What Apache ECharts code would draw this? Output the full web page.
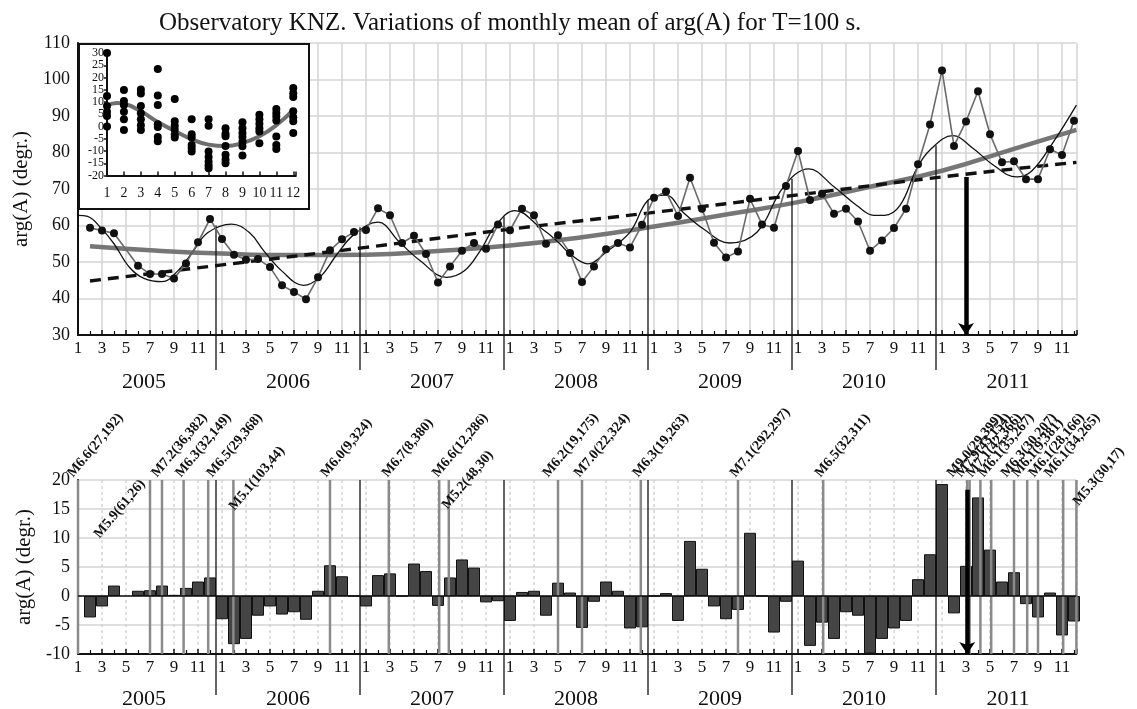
<!DOCTYPE html>
<html>
<head>
<meta charset="utf-8">
<script src="https://cdn.jsdelivr.net/npm/echarts@6/dist/echarts.min.js"></script>
<style>
  html, body { margin: 0; padding: 0; background: #fff; }
  #main { width: 1137px; height: 709px; }
</style>
</head>
<body>
<div id="main"></div>
<script>
// month index: 0 = Jan 2005 ... 83 = Dec 2011
const X_MAX = 83.2;
const SERIF = '"Liberation Serif", "Times New Roman", serif';

// monthly mean of arg(A), degrees (null = no data)
const argMean = [
  null, 59.4, 58.6, 57.9, null, 49.0, 46.7, 46.7, 45.5, 49.6, 55.4, 61.8,
  56.3, 52.0, 50.6, 50.8, 48.6, 43.6, 41.8, 39.8, 45.8, 53.2, 56.2, 58.2,
  58.8, 64.7, 62.8, 55.2, 57.2, 52.2, 44.4, 48.8, 53.1, 55.2, 53.6, 60.3,
  58.7, 64.6, 62.8, 55.0, 57.3, 52.5, 44.5, 48.8, 53.5, 55.2, 54.0, 60.2,
  67.6, 69.3, 62.6, 73.1, 64.6, 55.3, 51.2, 52.9, 67.3, 60.3, 59.4, 70.8,
  80.4, 67.0, 68.7, 63.2, 64.6, 61.1, 53.1, 55.9, 59.3, 64.6, 76.8, 87.7,
  102.5, 81.8, 88.5, 96.8, 85.0, 77.3, 77.6, 72.7, 72.7, 80.9, 79.3, 88.7
];

// fitted seasonal (thin) curve
const sineX = [0, 0.8, 2, 3, 4.3, 5.5, 7, 8.3, 9.5, 10.8, 12.8, 14.3, 15.5, 17, 18.8, 20.2, 21.6, 23,
  25, 26.8, 28.5, 30.7, 32.2, 33.5, 34.8, 36.4, 38.5, 40, 41, 42.5, 44, 46, 47.5, 49, 50.4, 52.1, 54.3,
  56.6, 58.8, 60.9, 63, 64.9, 66.3, 67.2, 68.5, 69.9, 71, 72.9, 74.6, 76.3, 78.2, 79.5, 81.3, 83.2];
const sineV = [62.8, 62.5, 59, 55, 48.5, 45.5, 44.6, 47.5, 52.5, 58, 60.4, 58, 53, 47.5, 43.6, 46, 52.2, 57.5,
  60.9, 55.4, 50.4, 45.8, 47.6, 53, 60, 64.1, 59.5, 55.5, 52.2, 49.5, 52.7, 58.2, 66.9, 68.3, 63.7, 59.1, 55.2,
  58.2, 70.6, 75.5, 70.6, 65.5, 62.8, 62.8, 65.5, 75.6, 80.7, 84.6, 81.1, 76.5, 73.3, 75, 83, 93];

// polynomial trend (thick grey)
const trendX = [1, 6, 12, 18, 24, 30, 36, 42, 48, 54, 60, 66, 72, 78, 83.2];
const trendV = [54.3, 53.2, 52.3, 51.9, 52.0, 53.0, 54.5, 56.8, 59.7, 63.0, 66.4, 70.6, 75.0, 81.0, 86.2];

// linear trend (dashed)
const linX = [1, 12, 24, 36, 48, 60, 72, 83.2];
const linV = [44.8, 49.2, 54.0, 59.0, 63.6, 68.4, 73.3, 77.3];

// residual anomaly (bars), degrees
const anomaly = [
  null, -3.7, -1.8, 1.8, null, 0.9, 1.0, 1.8, 0.2, 1.4, 2.5, 3.2,
  -4.0, -8.3, -7.4, -3.4, -1.8, -3.2, -2.8, -4.1, 0.9, 5.3, 3.4, 0,
  -1.8, 3.6, 3.9, 0, 5.6, 4.3, -1.7, 3.2, 6.3, 4.9, -1.1, -0.9,
  -4.3, 0.7, 0.9, -3.4, 2.3, 0.6, -5.5, -1.0, 2.5, 0.9, -5.6, -5.4,
  0, 0.5, -4.3, 9.5, 4.7, -1.8, -4.0, -2.4, 10.9, 0, -6.3, -1.0,
  6.1, -8.6, -4.6, -7.4, -2.8, -3.4, -9.9, -7.4, -5.6, -4.3, 2.9, 7.2,
  19.3, -3.0, 5.2, 17.0, 8.0, 2.5, 4.1, -1.4, -3.7, 0.6, -6.8, -4.4
];

// earthquakes: month of event, label, label start [month, value]
const quakeMonth = [0, 6.0, 7.0, 8.8, 10.85, 12.95, 21.0, 25.9, 30.1, 30.9, 40.0, 42.0, 46.9, 55.0, 62.1,
  74.1, 74.3, 75.2, 76.1, 78.0, 79.1, 80.0, 82.1, 83.2];
const quakeLabel = ['M6.6(27,192)', 'M5.9(61,26)', 'M7.2(36,382)', 'M6.3(32,149)', 'M6.5(29,368)',
  'M5.1(103,44)', 'M6.0(9,324)', 'M6.7(8,380)', 'M6.6(12,286)', 'M5.2(48,30)', 'M6.2(19,175)',
  'M7.0(22,324)', 'M6.3(19,263)', 'M7.1(292,297)', 'M6.5(32,311)', 'M9.0(29,399)', 'M7.9(43,154)',
  'M7.1(42,366)', 'M6.1(35,267)', 'M6.3(30,207)', 'M6.1(9,381)', 'M6.1(28,166)', 'M6.1(34,265)',
  'M5.3(30,17)'];
const quakeLabelAt = [[-0.2, 20], [2.0, 9.5], [6.8, 20], [8.8, 20], [11.4, 20], [13.25, 14.3], [20.9, 20],
  [26.0, 20], [30.2, 20], [31.0, 14.5], [39.4, 20], [42.0, 20], [46.9, 20], [55.0, 20], [62.1, 20],
  [73.1, 20], [73.8, 20], [74.7, 20], [75.7, 20], [77.6, 20], [78.5, 20], [79.9, 20], [81.2, 20], [83.6, 15.1]];

// M9.0 arrows
const arrowMonth = 74.0;
const arrowTopUpper = 73.3;
const arrowTopLower = 18.3;

// years and separators
const yearNames = ['2005', '2006', '2007', '2008', '2009', '2010', '2011'];
const yearBreaks = [11.5, 23.5, 35.5, 47.5, 59.5, 71.5];
const yearBreakTop = [60, 59.5, 62.5, 67, 72.8, 82];

// inset: seasonal scatter by calendar month
const insetValues = [
  [30, 12.4, 8.4, 6.0, 4.3, 0.0],
  [14.9, 10.4, 8.8, 6.0, 3.0, -1.4],
  [15.1, 13.5, 8.4, 5.4, 3.0, 0.5, -1.4],
  [23.5, 12.7, 8.8, 0.9, -0.2, -4.3, -6.0],
  [11.2, 2.1, 0.3, -1.3, -3.4, -4.5],
  [3.0, -3.2, -4.5, -7.5, -8.8, -10.2],
  [3.0, 0.3, -10.2, -12.4, -14.3, -15.8, -17.0],
  [-0.7, -3.0, -4.0, -8.0, -11.5, -13.5, -15.0],
  [1.7, -0.7, -2.7, -4.3, -6.1, -8.1, -11.8],
  [4.8, 3.0, 1.1, -0.7, -2.0, -6.8],
  [7.1, 5.5, 4.1, 2.5, -4.1, -7.5, -9.2],
  [15.7, 13.6, 12.0, 6.2, 3.8, 2.1, -2.7]
];
const insetCurveX = [1, 1.6, 2, 3, 4, 5, 6, 7, 8, 9, 10, 11, 12];
const insetCurveV = [8.5, 9.6, 9.3, 6.2, 1.8, -1.8, -5.2, -7.4, -8.0, -6.8, -4.0, 0.5, 6.8];

// ---- build
const pairs = (xs, vs) => xs.map((x, i) => [x, vs[i]]);
const monthPts = argMean.map((v, i) => [i, v]).filter(p => p[1] !== null);
const barPts = anomaly.map((v, i) => [i, v]).filter(p => p[1] !== null);
const insetPts = [];
insetValues.forEach((arr, k) => arr.forEach(v => insetPts.push([k + 1, v])));

const isWhole = v => Math.abs(v - Math.round(v)) < 1e-6;
const monthLabel = v => (isWhole(v) ? String(Math.round(v) % 12 + 1) : '');

function monthAxis(gridIndex, dashed) {
  return {
    type: 'value', gridIndex: gridIndex, min: 0, max: X_MAX, interval: 2,
    axisLine: { onZero: false, lineStyle: { color: '#111', width: 2 } },
    axisTick: { show: true, inside: true, length: 5, lineStyle: { color: '#111', width: 1.5 } },
    minorTick: { show: true, splitNumber: 2, length: 4, lineStyle: { color: '#111', width: 1.2 } },
    axisLabel: { formatter: monthLabel, color: '#111', fontFamily: SERIF, fontSize: 17, margin: 5 },
    splitLine: { show: true, lineStyle: { color: '#d4d4d4', width: 1.5, type: dashed ? [3, 3] : 'solid' } }
  };
}

function valueAxis(gridIndex, min, max, interval) {
  return {
    type: 'value', gridIndex: gridIndex, min: min, max: max, interval: interval,
    name: 'arg(A) (degr.)', nameLocation: 'middle', nameGap: 42,
    nameTextStyle: { fontFamily: SERIF, fontSize: 21, color: '#111' },
    axisLine: { show: true, onZero: false, lineStyle: { color: '#111', width: 2 } },
    axisTick: { show: false },
    axisLabel: { color: '#111', fontFamily: SERIF, fontSize: 18, margin: 8 },
    splitLine: { show: true, lineStyle: { color: '#d4d4d4', width: 1.5 } }
  };
}

function breakSeries(xi, yi, axisMin, tops, drop) {
  return {
    type: 'custom', xAxisIndex: xi, yAxisIndex: yi, clip: false, z: 4, silent: true,
    data: yearBreaks.map((b, i) => [b, tops[i]]),
    renderItem: function (params, api) {
      const p = api.coord([api.value(0), api.value(1)]);
      const q = api.coord([api.value(0), axisMin]);
      return { type: 'line', shape: { x1: p[0], y1: p[1], x2: q[0], y2: q[1] + drop },
        style: { stroke: '#111', lineWidth: 1.3 } };
    }
  };
}

function yearLabelSeries(xi, yi, axisMin, drop) {
  return {
    type: 'custom', xAxisIndex: xi, yAxisIndex: yi, clip: false, z: 4, silent: true,
    data: yearNames.map((n, i) => [5.5 + 12 * i, axisMin]),
    renderItem: function (params, api) {
      const p = api.coord([api.value(0), api.value(1)]);
      return { type: 'text', x: p[0], y: p[1] + drop,
        style: { text: yearNames[params.dataIndex], font: '22px ' + SERIF, fill: '#111',
          align: 'center', verticalAlign: 'middle' } };
    }
  };
}

const chart = echarts.init(document.getElementById('main'));

chart.setOption({
  backgroundColor: '#fff',
  animation: false,
  title: {
    text: 'Observatory KNZ. Variations of monthly mean of arg(A) for T=100 s.',
    left: 154, top: 6,
    textStyle: { fontFamily: SERIF, fontSize: 25, fontWeight: 'normal', color: '#111' }
  },
  grid: [
    { left: 78, top: 43, width: X_MAX * 12, height: 292 },
    { left: 78, top: 480, width: X_MAX * 12, height: 174 },
    { left: 107, top: 53, width: 188.8, height: 122.5 }
  ],
  graphic: [
    { type: 'rect', left: 78, top: 43, z: 5, silent: true,
      shape: { width: 230, height: 165 },
      style: { fill: '#fff', stroke: '#111', lineWidth: 2 } }
  ],
  xAxis: [
    monthAxis(0, false),
    monthAxis(1, true),
    {
      type: 'value', gridIndex: 2, min: 1, max: 12.15, interval: 1, z: 6,
      axisLine: { onZero: false, lineStyle: { color: '#111', width: 2 } },
      axisTick: { show: true, inside: true, length: 4, lineStyle: { color: '#111', width: 1.5 } },
      axisLabel: { formatter: v => (isWhole(v) ? String(Math.round(v)) : ''),
        color: '#111', fontFamily: SERIF, fontSize: 14, margin: 11 },
      splitLine: { show: false }
    }
  ],
  yAxis: [
    valueAxis(0, 30, 110, 10),
    valueAxis(1, -10, 20, 5),
    {
      type: 'value', gridIndex: 2, min: -20, max: 30, interval: 5, z: 6,
      axisLine: { show: true, onZero: false, lineStyle: { color: '#111', width: 2 } },
      axisTick: { show: true, length: 3, lineStyle: { color: '#111', width: 1.5 } },
      axisLabel: { color: '#111', fontFamily: SERIF, fontSize: 12, margin: 3 },
      splitLine: { show: false }
    }
  ],
  series: [
    // ---- top panel
    { type: 'line', xAxisIndex: 0, yAxisIndex: 0, data: pairs(trendX, trendV), smooth: true,
      symbol: 'none', z: 2, lineStyle: { color: '#767676', width: 4.5 } },
    { type: 'line', xAxisIndex: 0, yAxisIndex: 0, data: pairs(linX, linV), smooth: true,
      symbol: 'none', z: 3, lineStyle: { color: '#111', width: 3.4, type: [11, 7] } },
    { type: 'line', xAxisIndex: 0, yAxisIndex: 0, data: pairs(sineX, sineV), smooth: 0.4,
      symbol: 'none', z: 3, lineStyle: { color: '#111', width: 1.3 } },
    { type: 'line', xAxisIndex: 0, yAxisIndex: 0, data: monthPts, z: 4,
      symbol: 'circle', symbolSize: 8,
      itemStyle: { color: '#111' }, lineStyle: { color: '#6a6a6a', width: 1.6 },
      markLine: {
        silent: true, symbol: ['none', 'arrow'], symbolSize: [12, 12],
        label: { show: false },
        lineStyle: { color: '#000', width: 4.5, type: 'solid' },
        data: [[{ coord: [arrowMonth, arrowTopUpper] }, { coord: [arrowMonth, 30] }]]
      }
    },
    breakSeries(0, 0, 30, yearBreakTop, 35),
    yearLabelSeries(0, 0, 30, 47),

    // ---- bottom panel
    { type: 'bar', xAxisIndex: 1, yAxisIndex: 1, data: barPts, barWidth: 12, z: 2,
      itemStyle: { color: '#454545', borderColor: '#111', borderWidth: 1 },
      markLine: {
        silent: true, symbol: 'none', label: { show: false },
        lineStyle: { color: '#111', width: 1.5, type: 'solid' },
        data: [{ yAxis: 0 }]
      }
    },
    {
      type: 'custom', xAxisIndex: 1, yAxisIndex: 1, clip: false, z: 3, silent: true,
      data: quakeMonth.map((m, i) => [m, quakeLabelAt[i][0], quakeLabelAt[i][1]]),
      encode: { x: [0, 1], y: 2 },
      renderItem: function (params, api) {
        const m = api.value(0);
        const top = api.coord([m, 20]);
        const bot = api.coord([m, -10]);
        const lab = api.coord([api.value(1), api.value(2)]);
        return {
          type: 'group',
          children: [
            { type: 'line', shape: { x1: top[0], y1: top[1], x2: bot[0], y2: bot[1] },
              style: { stroke: '#8a8a8a', lineWidth: 2.5 } },
            { type: 'text', x: lab[0], y: lab[1], rotation: 50 * Math.PI / 180,
              style: { text: quakeLabel[params.dataIndex], font: 'bold 14px ' + SERIF, fill: '#111',
                align: 'left', verticalAlign: 'bottom' } }
          ]
        };
      }
    },
    breakSeries(1, 1, -10, yearBreaks.map(() => 20), 41),
    yearLabelSeries(1, 1, -10, 45),
    { type: 'line', xAxisIndex: 1, yAxisIndex: 1, data: [], z: 5,
      markLine: {
        silent: true, symbol: ['none', 'arrow'], symbolSize: [12, 12],
        label: { show: false },
        lineStyle: { color: '#000', width: 4.5, type: 'solid' },
        data: [[{ coord: [arrowMonth + 0.1, arrowTopLower] }, { coord: [arrowMonth + 0.1, -10] }]]
      }
    },

    // ---- inset
    { type: 'line', xAxisIndex: 2, yAxisIndex: 2, data: pairs(insetCurveX, insetCurveV), smooth: true,
      symbol: 'none', z: 7, lineStyle: { color: '#6e6e6e', width: 4 } },
    { type: 'scatter', xAxisIndex: 2, yAxisIndex: 2, data: insetPts, z: 8,
      symbol: 'circle', symbolSize: 8, itemStyle: { color: '#000', opacity: 1 } }
  ]
});
</script>
</body>
</html>
